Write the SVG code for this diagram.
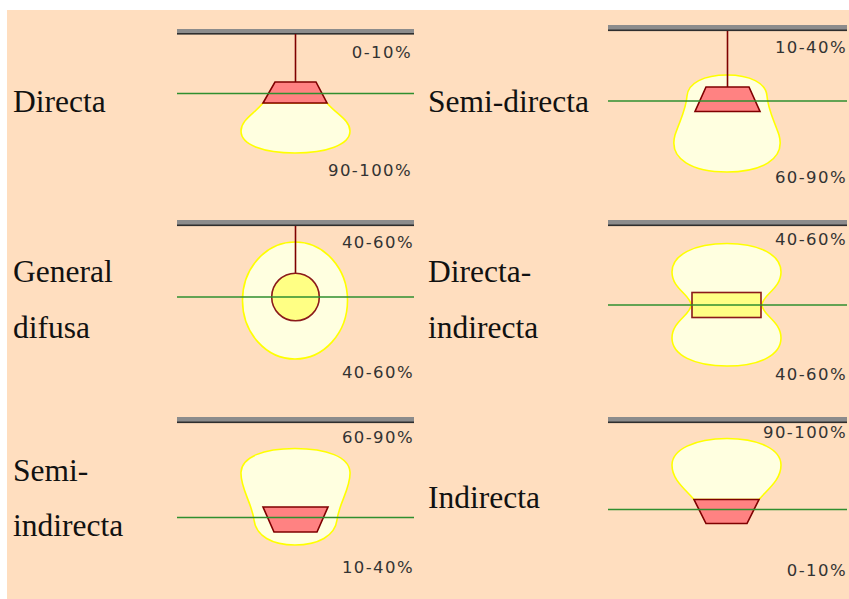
<svg xmlns="http://www.w3.org/2000/svg" width="849" height="599" viewBox="0 0 849 599">
  <style>
    .label { font-family: "Liberation Serif", "DejaVu Serif", "Times New Roman", serif; font-size: 31.5px; fill: #111; }
    .pct { font-family: "DejaVu Sans", Verdana, sans-serif; font-size: 16.5px; fill: #333; letter-spacing: 1.4px; text-anchor: end; }
    .bar { fill: #8c8c8c; }
    .barEdge { fill: #2e2e2e; }
    .floor { stroke: #2f8f2f; stroke-width: 1.5; }
    .glow { fill: #ffffe0; stroke: #ffff00; stroke-width: 1.6; }
    .lamp { fill: #ff8282; stroke: #7f0000; stroke-width: 1.6; stroke-linejoin: miter; }
    .bulb { fill: #ffff84; stroke: #8b1a1a; stroke-width: 1.6; }
    .rod { stroke: #7f0000; stroke-width: 1.6; }
  </style>

  <!-- backdrop -->
  <rect x="0" y="0" width="849" height="599" fill="#ffffff"/>
  <rect x="7" y="10" width="842" height="589" fill="#ffdebf"/>

  <!-- Directa -->
  <g id="directa">
    <text class="label" font-family="Liberation Serif, serif" x="13" y="112">Directa</text>
    <rect class="bar" x="177" y="29" width="237" height="5"/>
    <rect class="barEdge" x="177" y="33" width="237" height="1.6"/>
    <path class="glow" d="M263,103 L327,103 C336,114 350,120 350,131 C350,145 326,153 295,153 C264,153 241,145 241,131 C241,120 254,114 263,103 Z"/>
    <line class="rod" x1="295.5" y1="34" x2="295.5" y2="82"/>
    <path class="lamp" d="M275,82 L316,82 L327,103 L263,103 Z"/>
    <line class="floor" x1="177" y1="93.5" x2="414" y2="93.5"/>
    <text class="pct" x="412" y="58">0-10%</text>
    <text class="pct" x="412" y="176">90-100%</text>
  </g>

  <!-- Semi-directa -->
  <g id="semi-directa">
    <text class="label" font-family="Liberation Serif, serif" x="428" y="112">Semi-directa</text>
    <rect class="bar" x="608" y="25" width="239" height="5.5"/>
    <rect class="barEdge" x="608" y="29.5" width="239" height="1.6"/>
    <path class="glow" d="M727,75 C750,75 766,83 767,96 C768,110 774,120 779,135 C786,160 760,172 727,172 C694,172 668,160 675,135 C680,120 686,110 687,96 C688,83 704,75 727,75 Z"/>
    <line class="rod" x1="727.5" y1="31" x2="727.5" y2="87"/>
    <path class="lamp" d="M706,87 L749,87 L760,111.5 L695,111.5 Z"/>
    <line class="floor" x1="608" y1="101" x2="847" y2="101"/>
    <text class="pct" x="847" y="53">10-40%</text>
    <text class="pct" x="847" y="183">60-90%</text>
  </g>

  <!-- General difusa -->
  <g id="general-difusa">
    <text class="label" font-family="Liberation Serif, serif" x="13" y="282">General</text>
    <text class="label" font-family="Liberation Serif, serif" x="13" y="338">difusa</text>
    <rect class="bar" x="177" y="220" width="237" height="5.5"/>
    <rect class="barEdge" x="177" y="224.5" width="237" height="1.6"/>
    <ellipse class="glow" cx="295" cy="300.5" rx="52.5" ry="58.5"/>
    <line class="rod" x1="295.5" y1="226" x2="295.5" y2="273"/>
    <circle class="bulb" cx="295.5" cy="297" r="23.8"/>
    <line class="floor" x1="177" y1="297" x2="414" y2="297"/>
    <text class="pct" x="414" y="248">40-60%</text>
    <text class="pct" x="414" y="378">40-60%</text>
  </g>

  <!-- Directa-indirecta -->
  <g id="directa-indirecta">
    <text class="label" font-family="Liberation Serif, serif" x="428" y="282">Directa-</text>
    <text class="label" font-family="Liberation Serif, serif" x="428" y="338">indirecta</text>
    <rect class="bar" x="608" y="220" width="239" height="5.5"/>
    <rect class="barEdge" x="608" y="224.5" width="239" height="1.6"/>
    <path class="glow" d="M727,243.5 C760,243.5 781,255 781,272 C781,289 762,295 762,305 C762,315 781,321 781,338 C781,355 760,366 727,366 C694,366 672,355 672,338 C672,321 691,315 691,305 C691,295 672,289 672,272 C672,255 694,243.5 727,243.5 Z"/>
    <rect class="bulb" x="692" y="292.5" width="69" height="25"/>
    <line class="floor" x1="608" y1="305" x2="847" y2="305"/>
    <text class="pct" x="847" y="245">40-60%</text>
    <text class="pct" x="847" y="380">40-60%</text>
  </g>

  <!-- Semi-indirecta -->
  <g id="semi-indirecta">
    <text class="label" font-family="Liberation Serif, serif" x="13" y="481">Semi-</text>
    <text class="label" font-family="Liberation Serif, serif" x="13" y="536">indirecta</text>
    <rect class="bar" x="177" y="417" width="237" height="5.5"/>
    <rect class="barEdge" x="177" y="421.5" width="237" height="1.6"/>
    <path class="glow" d="M295,448.5 C327,448.5 349,457 350,472 C351,488 339,503 337,520 C335,536 318,545 295,545 C272,545 256,536 254,520 C252,503 240,488 241,472 C242,457 263,448.5 295,448.5 Z"/>
    <path class="lamp" d="M263,507 L328,507 L317,532 L274,532 Z"/>
    <line class="floor" x1="177" y1="517.5" x2="414" y2="517.5"/>
    <text class="pct" x="414" y="443">60-90%</text>
    <text class="pct" x="414" y="573">10-40%</text>
  </g>

  <!-- Indirecta -->
  <g id="indirecta">
    <text class="label" font-family="Liberation Serif, serif" x="428" y="508">Indirecta</text>
    <rect class="bar" x="608" y="417" width="239" height="5.5"/>
    <rect class="barEdge" x="608" y="421.5" width="239" height="1.6"/>
    <path class="glow" d="M727,438.5 C760,438.5 781,450 781,465 C781,480 768,489 759,499.5 L694,499.5 C685,489 672,480 672,465 C672,450 694,438.5 727,438.5 Z"/>
    <path class="lamp" d="M694,499.5 L759,499.5 L747,523.5 L706,523.5 Z"/>
    <line class="floor" x1="608" y1="509.5" x2="847" y2="509.5"/>
    <text class="pct" x="847" y="438">90-100%</text>
    <text class="pct" x="847" y="576">0-10%</text>
  </g>
</svg>
